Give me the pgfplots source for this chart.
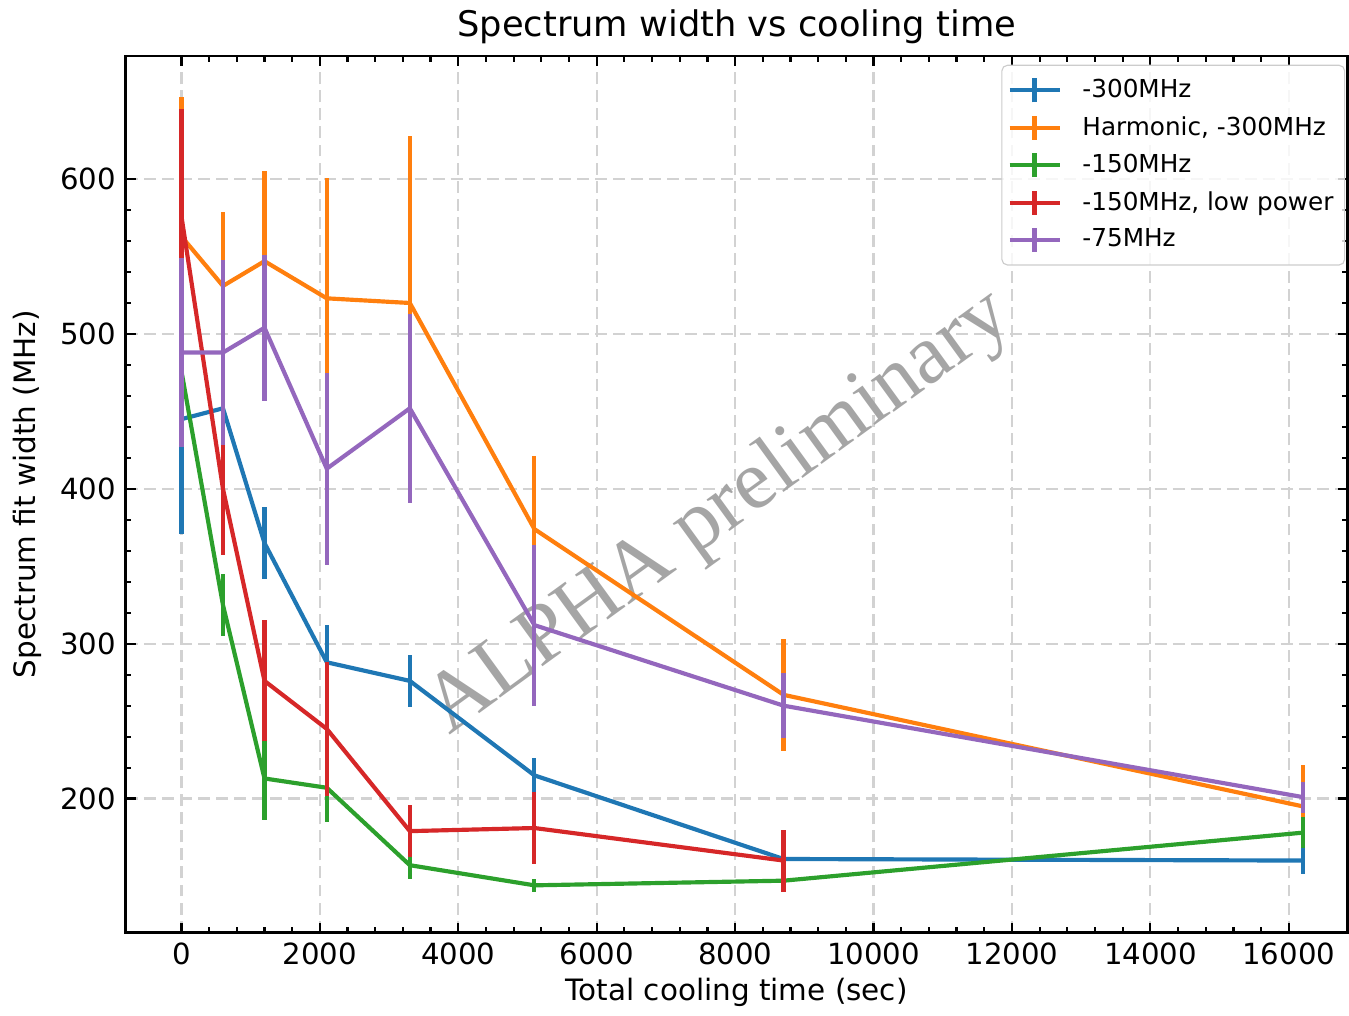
\documentclass[border=0pt]{standalone}
\usepackage{fontspec}
\setmainfont{DejaVu Sans}
\newfontfamily\wmfont{Liberation Serif}
\usepackage{pgfplots}
\usepackage{pgfplotstable}
\pgfplotsset{compat=1.18}
\definecolor{c0}{HTML}{1F77B4}
\definecolor{c1}{HTML}{FF7F0E}
\definecolor{c2}{HTML}{2CA02C}
\definecolor{c3}{HTML}{D62728}
\definecolor{c4}{HTML}{9467BD}
\definecolor{wm}{RGB}{165,165,165}

\pgfplotstableread{
x y e
0 445 74
600 452 20
1200 365 23
2100 288 24
3300 276 17
5100 215 11
8700 161 10
16200 160 9
}\blue
\pgfplotstableread{
x y e
0 563 90
600 531 48
1200 547 58
2100 523 78
3300 520 108
5100 374 47
8700 267 36
16200 195 27
}\orange
\pgfplotstableread{
x y e
0 476 20
600 325 20
1200 213 27
2100 207 22
3300 157 9
5100 144 4
8700 147 4
16200 178 10
}\green
\pgfplotstableread{
x y e
0 576 69
600 400 43
1200 276 39
2100 245 43
3300 179 17
5100 181 23
8700 160 20
}\red
\pgfplotstableread{
x y e
0 488 61
600 488 60
1200 504 47
2100 413 62
3300 452 61
5100 312 52
8700 260 21
16200 201 10
}\purple

\begin{document}
\begin{tikzpicture}
\begin{axis}[
  scale only axis, width=440pt, height=315.7pt,
  xmin=-803, xmax=16850, ymin=113.5, ymax=679.5,
  xtick={0,2000,...,16000}, ytick={200,300,...,600},
  minor x tick num=4, minor y tick num=4,
  tick align=inside, xtick pos=both, ytick pos=both,
  major tick length=3.6pt, minor tick length=2pt,
  every tick/.style={black, line width=0.8pt},
  grid=major,
  major grid style={gray!35, line width=0.8pt, dash pattern=on 4.3pt off 2.2pt},
  axis line style={line width=1pt},
  title={Spectrum width vs cooling time},
  title style={font=\fontsize{12.7}{14}\selectfont, yshift=-5pt},
  xlabel={Total cooling time (sec)},
  ylabel={Spectrum fit width (MHz)},
  label style={font=\fontsize{10.6}{12}\selectfont},
  xlabel style={yshift=2pt},
  tick label style={font=\fontsize{10.5}{12}\selectfont},
  /pgf/number format/assume math mode=true,
  /pgf/number format/1000 sep={},
  scaled x ticks=false,
  legend cell align=left,
  legend image code/.code={
    \draw[#1, line width=1.5pt] (0pt,0pt) -- (18pt,0pt);
    \draw[#1, line width=1.5pt] (9pt,-4.3pt) -- (9pt,4.3pt);
    \path (23.5pt,0pt);
  },
  legend style={at={(0.998,0.99)}, anchor=north east, draw=gray!40,
    rounded corners=2pt, fill=white, fill opacity=0.8, text opacity=1,
    font=\fontsize{8.9}{11}\selectfont, row sep=1.3pt, inner ysep=3pt, inner xsep=2pt},
  every axis plot/.append style={line width=1.5pt, no markers,
    error bars/y dir=both, error bars/y explicit, error bars/error mark=none,
    error bars/error bar style={line width=1.5pt}},
]
\node[rotate=36, text=wm, font=\wmfont\fontsize{30.5}{30}\selectfont] at (axis cs:7780,384) {ALPHA preliminary};
\addplot[c0] table[x=x, y=y, y error=e] {\blue};
\addlegendentry{-300MHz}
\addplot[c1] table[x=x, y=y, y error=e] {\orange};
\addlegendentry{Harmonic, -300MHz}
\addplot[c2] table[x=x, y=y, y error=e] {\green};
\addlegendentry{-150MHz}
\addplot[c3] table[x=x, y=y, y error=e] {\red};
\addlegendentry{-150MHz, low power}
\addplot[c4] table[x=x, y=y, y error=e] {\purple};
\addlegendentry{-75MHz}
\end{axis}
\path (current axis.outer west) ++(-1.3pt,0pt);
\end{tikzpicture}
\end{document}
